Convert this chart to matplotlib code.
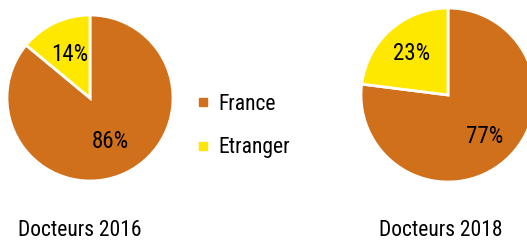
import matplotlib.pyplot as plt
from matplotlib.lines import Line2D

plt.rcParams['font.family'] = ['Roboto Condensed', 'Liberation Sans', 'DejaVu Sans']

# data
categories = ['France', 'Etranger']
shares_2016 = [86, 14]
shares_2018 = [77, 23]
titles = ['Docteurs 2016', 'Docteurs 2018']
colors = ['#D0701A', '#FFE800']

W, H = 527, 241
fig = plt.figure(figsize=(W / 100, H / 100), dpi=100)


def add_pie(cx, cy, r, values, pctdist):
    # cx, cy, r in pixels (y from top)
    ax = fig.add_axes([(cx - r) / W, (H - cy - r) / H, 2 * r / W, 2 * r / H])
    wedges, texts, autotexts = ax.pie(
        values, colors=colors, startangle=90, counterclock=False,
        autopct='%d%%', pctdistance=pctdist,
        wedgeprops=dict(edgecolor='white', linewidth=2),
        textprops=dict(fontsize=16.5, color='black'))
    ax.set_xlim(-1, 1)
    ax.set_ylim(-1, 1)
    ax.set_aspect('equal')
    for w in wedges:
        w.set_clip_on(False)
    return ax


add_pie(90, 98, 83, shares_2016, 0.58)
add_pie(448, 95, 87, shares_2018, 0.63)

fig.text(80 / W, 1 - 230 / H, titles[0], fontsize=15.5, ha='center', va='center')
fig.text(441 / W, 1 - 230 / H, titles[1], fontsize=15.5, ha='center', va='center')

handles = [Line2D([], [], marker='s', linestyle='none', markersize=6,
                  markerfacecolor=c, markeredgecolor=c) for c in colors]
fig.legend(handles, categories, loc='center left',
           bbox_to_anchor=(177 / W, 1 - 126 / H), frameon=False,
           fontsize=15.5, handlelength=0.6, handletextpad=0.4,
           labelspacing=1.05)

fig.savefig('out.png', dpi=100)
